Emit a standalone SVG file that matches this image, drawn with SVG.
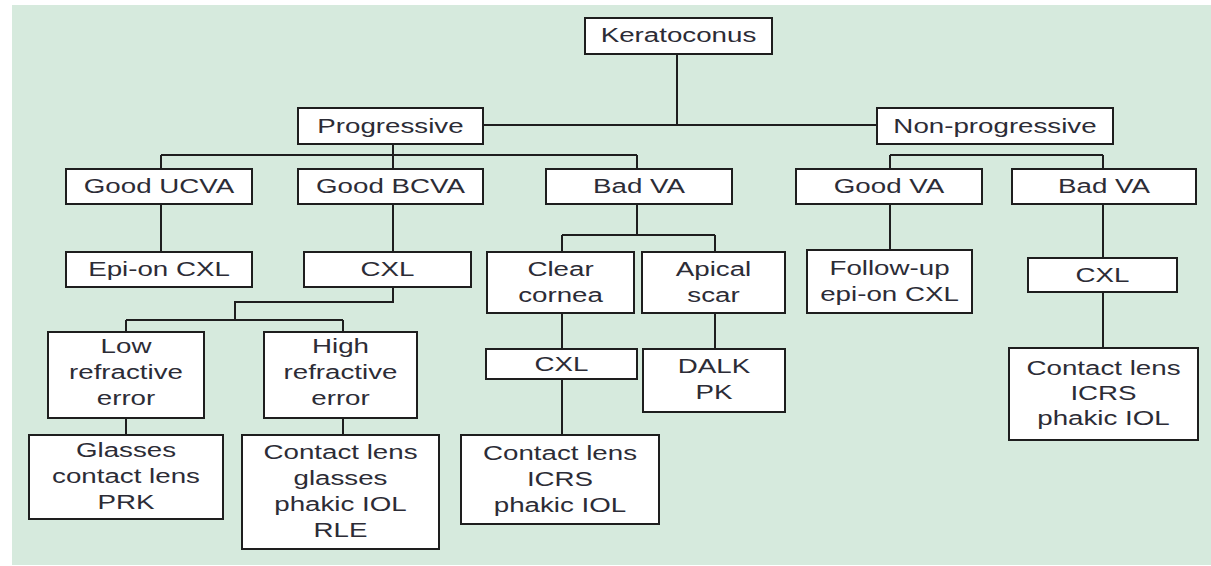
<svg xmlns="http://www.w3.org/2000/svg" width="1211" height="566" viewBox="0 0 1211 566">
<style>
.bx{fill:#ffffff;stroke:#1e1e1e;stroke-width:2}
.t{font-family:"Liberation Sans",Arial,sans-serif;font-size:21px;fill:#2c2c36;text-anchor:middle}
.c{fill:none;stroke:#1e1e1e;stroke-width:2}
</style>
<rect x="0" y="0" width="1211" height="566" fill="#ffffff"/>
<rect x="12" y="5" width="1199" height="560" fill="#d6eadd"/>
<g id="connectors" class="c">
<path d="M677 54V125M483 125H877"/>
<path d="M393 144V155M161 155H637M161 155V169M637 155V169M393 155V169"/>
<path d="M890 155H1103M890 155V169M1103 155V169"/>
<path d="M161 204V252M393 204V252"/>
<path d="M393 287V302H235V320M126 320H343M126 320V332M343 320V332"/>
<path d="M126 418V435M343 418V435"/>
<path d="M637 204V235M562 235H715M562 235V252M715 235V252"/>
<path d="M562 313V349M562 379V435M715 313V349"/>
<path d="M890 204V250M1103 204V258M1103 292V348"/>
</g>
<g id="keratoconus"><rect class="bx" x="585" y="18" width="187" height="36"/><text class="t" transform="translate(678.5,42) scale(1.32,1)">Keratoconus</text></g>
<g id="progressive"><rect class="bx" x="298" y="108" width="185" height="36"/><text class="t" transform="translate(390.5,133) scale(1.32,1)">Progressive</text></g>
<g id="nonprogressive"><rect class="bx" x="877" y="108" width="236" height="36"/><text class="t" transform="translate(995,133) scale(1.32,1)">Non-progressive</text></g>
<g id="good-ucva"><rect class="bx" x="66" y="169" width="186" height="35"/><text class="t" transform="translate(159,193) scale(1.32,1)">Good UCVA</text></g>
<g id="good-bcva"><rect class="bx" x="298" y="169" width="185" height="35"/><text class="t" transform="translate(390.5,193) scale(1.32,1)">Good BCVA</text></g>
<g id="bad-va-p"><rect class="bx" x="546" y="169" width="186" height="35"/><text class="t" transform="translate(639,193) scale(1.32,1)">Bad VA</text></g>
<g id="good-va"><rect class="bx" x="796" y="169" width="186" height="35"/><text class="t" transform="translate(889,193) scale(1.32,1)">Good VA</text></g>
<g id="bad-va-np"><rect class="bx" x="1012" y="169" width="184" height="35"/><text class="t" transform="translate(1104,193) scale(1.32,1)">Bad VA</text></g>
<g id="epi-on-cxl"><rect class="bx" x="66" y="252" width="186" height="35"/><text class="t" transform="translate(159,276) scale(1.32,1)">Epi-on CXL</text></g>
<g id="cxl-bcva"><rect class="bx" x="304" y="252" width="167" height="35"/><text class="t" transform="translate(387.5,276) scale(1.32,1)">CXL</text></g>
<g id="clear-cornea"><rect class="bx" x="487" y="252" width="147" height="61"/><text class="t" transform="translate(560.5,276) scale(1.32,1)"><tspan x="0" y="0">Clear</tspan><tspan x="0" y="26">cornea</tspan></text></g>
<g id="apical-scar"><rect class="bx" x="642" y="252" width="143" height="61"/><text class="t" transform="translate(713.5,276) scale(1.32,1)"><tspan x="0" y="0">Apical</tspan><tspan x="0" y="26">scar</tspan></text></g>
<g id="follow-up"><rect class="bx" x="807" y="250" width="165" height="63"/><text class="t" transform="translate(889.5,275) scale(1.32,1)"><tspan x="0" y="0">Follow-up</tspan><tspan x="0" y="26">epi-on CXL</tspan></text></g>
<g id="cxl-np"><rect class="bx" x="1028" y="258" width="149" height="34"/><text class="t" transform="translate(1102.5,282) scale(1.32,1)">CXL</text></g>
<g id="low-re"><rect class="bx" x="48" y="332" width="156" height="86"/><text class="t" transform="translate(126,353) scale(1.32,1)"><tspan x="0" y="0">Low</tspan><tspan x="0" y="26">refractive</tspan><tspan x="0" y="52">error</tspan></text></g>
<g id="high-re"><rect class="bx" x="264" y="332" width="153" height="86"/><text class="t" transform="translate(340.5,353) scale(1.32,1)"><tspan x="0" y="0">High</tspan><tspan x="0" y="26">refractive</tspan><tspan x="0" y="52">error</tspan></text></g>
<g id="cxl-clear"><rect class="bx" x="486" y="349" width="151" height="30"/><text class="t" transform="translate(561.5,371) scale(1.32,1)">CXL</text></g>
<g id="dalk-pk"><rect class="bx" x="643" y="349" width="142" height="63"/><text class="t" transform="translate(714,373) scale(1.32,1)"><tspan x="0" y="0">DALK</tspan><tspan x="0" y="26">PK</tspan></text></g>
<g id="tx-np"><rect class="bx" x="1009" y="348" width="189" height="92"/><text class="t" transform="translate(1103.5,375) scale(1.32,1)"><tspan x="0" y="0">Contact lens</tspan><tspan x="0" y="25">ICRS</tspan><tspan x="0" y="50">phakic IOL</tspan></text></g>
<g id="tx-low"><rect class="bx" x="29" y="435" width="194" height="84"/><text class="t" transform="translate(126,457) scale(1.32,1)"><tspan x="0" y="0">Glasses</tspan><tspan x="0" y="26">contact lens</tspan><tspan x="0" y="52">PRK</tspan></text></g>
<g id="tx-high"><rect class="bx" x="242" y="435" width="197" height="114"/><text class="t" transform="translate(340.5,459) scale(1.32,1)"><tspan x="0" y="0">Contact lens</tspan><tspan x="0" y="26">glasses</tspan><tspan x="0" y="52">phakic IOL</tspan><tspan x="0" y="78">RLE</tspan></text></g>
<g id="tx-clear"><rect class="bx" x="461" y="435" width="198" height="89"/><text class="t" transform="translate(560,460) scale(1.32,1)"><tspan x="0" y="0">Contact lens</tspan><tspan x="0" y="26">ICRS</tspan><tspan x="0" y="52">phakic IOL</tspan></text></g>
</svg>
